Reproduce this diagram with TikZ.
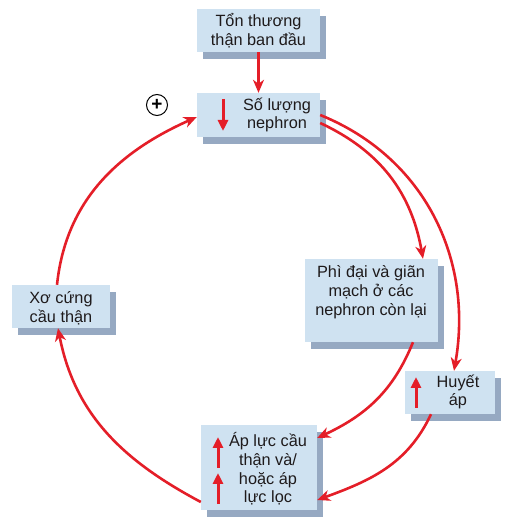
\documentclass[tikz,border=0pt]{standalone}
\usepackage{fontspec}
\setmainfont{Liberation Sans}
\usetikzlibrary{shadows,arrows.meta}
\definecolor{boxfill}{RGB}{207,226,241}
\definecolor{shadowcol}{RGB}{150,169,194}
\definecolor{redline}{RGB}{228,30,40}
\definecolor{txt}{RGB}{30,26,27}
\begin{document}
\begin{tikzpicture}[x=1pt,y=1pt,
  box/.style={draw=none,fill=boxfill,inner sep=0pt,
    drop shadow={shadow xshift=6pt,shadow yshift=-7pt,fill=shadowcol,opacity=1}},
  lbl/.style={text=txt,align=center,inner sep=0pt,font=\fontsize{16.3}{18.7}\selectfont},
  conn/.style={draw=redline,line width=2.6pt,-{Stealth[width=11pt,length=13pt,inset=4pt]}},
  updown/.style={draw=redline,line width=3pt,-{Triangle[width=10pt,length=11pt]}}]
\useasboundingbox (0,0) rectangle (511,523);

% boxes
\node[box,minimum width=123pt,minimum height=43pt] (b1) at (258.5,492.5) {};
\node[box,minimum width=123pt,minimum height=44pt] (b2) at (258.5,408) {};
\node[box,minimum width=133pt,minimum height=83pt] (b3) at (371.5,222.5) {};
\node[box,minimum width=90pt,minimum height=43pt] (b4) at (450,130.5) {};
\node[box,minimum width=116pt,minimum height=85pt] (b5) at (259,55.5) {};
\node[box,minimum width=98pt,minimum height=43pt] (b6) at (61,216.5) {};

% texts
\node[lbl] (t1) at (258.5,492) {Tổn thương\\thận ban đầu};
\node[lbl] (t2) at (277,408) {Số lượng\\nephron};
\node[lbl] (t3) at (371,231) {Phì đại và giãn\\mạch ở các\\nephron còn lại};
\node[lbl] (t4) at (458,131) {Huyết\\áp};
\node[lbl] (t5) at (268,54) {Áp lực cầu\\thận và/\\hoặc áp\\lực lọc};
\node[lbl] (t6) at (61,215) {Xơ cứng\\cầu thận};

% plus sign
\node[draw=black,circle,line width=1pt,minimum size=21pt,inner sep=0pt,
  font=\bfseries\fontsize{19}{19}\selectfont] (plus) at (157,418) {+};

% small up/down arrows
\coordinate (d2a) at (223,424); \coordinate (d2b) at (223,392);
\draw[updown] (d2a) -- (d2b);
\coordinate (u4a) at (416,115); \coordinate (u4b) at (416,146);
\draw[updown] (u4a) -- (u4b);
\coordinate (u5a) at (218,55); \coordinate (u5b) at (218,86);
\draw[updown] (u5a) -- (u5b);
\coordinate (u5c) at (218,19); \coordinate (u5d) at (218,50);
\draw[updown] (u5c) -- (u5d);

% connectors
\draw[conn] (b1.south) -- (b2.north);
\draw[conn] ([yshift=-8pt]b2.east) to[out=-25,in=100] ([xshift=51.5pt]b3.north);
\draw[conn] (b2.east) to[out=-22,in=80] ([xshift=4pt]b4.north);
\draw[conn] ([xshift=41.5pt]b3.south) to[out=-112,in=25] ([yshift=29.5pt]b5.east);
\draw[conn] ([xshift=-19pt]b4.south) to[out=-115,in=20] ([yshift=-32.5pt]b5.east);
\draw[conn] ([yshift=-34.5pt]b5.west) to[out=152,in=-79] ([xshift=-3pt]b6.south);
\draw[conn] ([xshift=-4pt]b6.north) to[out=84,in=204] ([yshift=-2pt]b2.west);
\end{tikzpicture}
\end{document}
